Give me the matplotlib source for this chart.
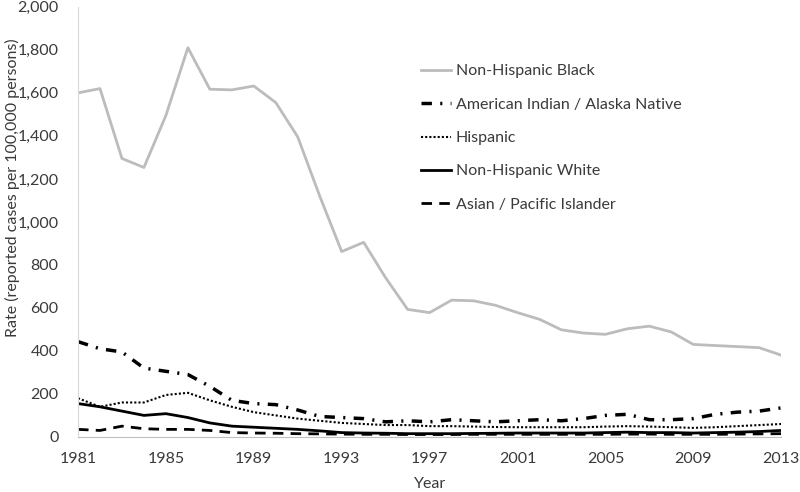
import matplotlib
matplotlib.use("Agg")
import matplotlib.pyplot as plt
from matplotlib.ticker import FuncFormatter

years = list(range(1981, 2014))
black = [1600, 1620, 1295, 1253, 1495, 1810, 1617, 1614, 1632, 1555, 1395, 1120, 862, 905, 740,
         593, 578, 636, 633, 612, 578, 547, 498, 483, 477, 503, 515, 488, 430, 425, 420, 415, 380]
aian = [443, 410, 395, 320, 305, 290, 235, 170, 155, 150, 125, 95, 90, 85, 70,
        75, 70, 80, 75, 70, 75, 80, 75, 85, 100, 105, 80, 80, 85, 105, 115, 120, 135]
hispanic = [180, 140, 160, 160, 195, 205, 170, 140, 115, 100, 85, 75, 65, 60, 55,
            55, 50, 50, 48, 46, 45, 45, 45, 45, 48, 50, 48, 45, 42, 45, 50, 55, 60]
white = [155, 140, 120, 100, 108, 90, 65, 50, 45, 40, 35, 28, 20, 18, 17,
         15, 15, 15, 16, 17, 18, 18, 18, 18, 20, 22, 20, 20, 18, 20, 22, 25, 30]
asian = [35, 30, 50, 38, 35, 35, 30, 20, 18, 17, 15, 14, 13, 12, 12,
         11, 11, 11, 12, 12, 12, 12, 12, 12, 12, 13, 13, 12, 12, 12, 13, 14, 15]

plt.rcParams['font.family'] = ['Lato', 'DejaVu Sans']
txt = '#3a3a3a'
fs = 11.5

fig = plt.figure(figsize=(8, 4.92), dpi=100)
ax = fig.add_axes([0.0975, 0.112, 0.879, 0.874])

ax.plot(years, black, color='#bcbcbc', lw=2, label='Non-Hispanic Black')
ax.plot(years, aian, color='black', lw=2.5, dashes=(3, 2.4, 0.6, 2.4), label='American Indian / Alaska Native')
ax.plot(years, hispanic, color='black', lw=1.5, dashes=(1, 1), label='Hispanic')
ax.plot(years, white, color='black', lw=2, label='Non-Hispanic White')
ax.plot(years, asian, color='black', lw=2, dashes=(3.8, 2.6), label='Asian / Pacific Islander')

ax.set_xlim(1981, 2013)
ax.set_ylim(0, 2000)
ax.set_xticks(list(range(1981, 2014, 4)))
ax.set_yticks(list(range(0, 2001, 200)))
ax.yaxis.set_major_formatter(FuncFormatter(lambda v, p: f'{int(v):,}'))
ax.tick_params(length=0, labelsize=fs, colors=txt)
ax.tick_params(axis='x', pad=11)
ax.tick_params(axis='y', pad=14)
for s in ['top', 'right']:
    ax.spines[s].set_visible(False)
ax.spines['left'].set_color('#d9d9d9')
ax.spines['bottom'].set_color('#bfbfbf')
ax.set_xlabel('Year', fontsize=fs, color=txt, labelpad=8)
ax.set_ylabel('Rate (reported cases per 100,000 persons)', fontsize=fs, color=txt, va='center')
ax.yaxis.set_label_coords(-0.093, 0.58)

leg = ax.legend(loc='upper left', bbox_to_anchor=(0.467, 0.90), frameon=False, fontsize=fs,
                handlelength=1.9, handletextpad=0.3, labelspacing=1.2, labelcolor=txt)

fig.savefig('out.png', dpi=100)
